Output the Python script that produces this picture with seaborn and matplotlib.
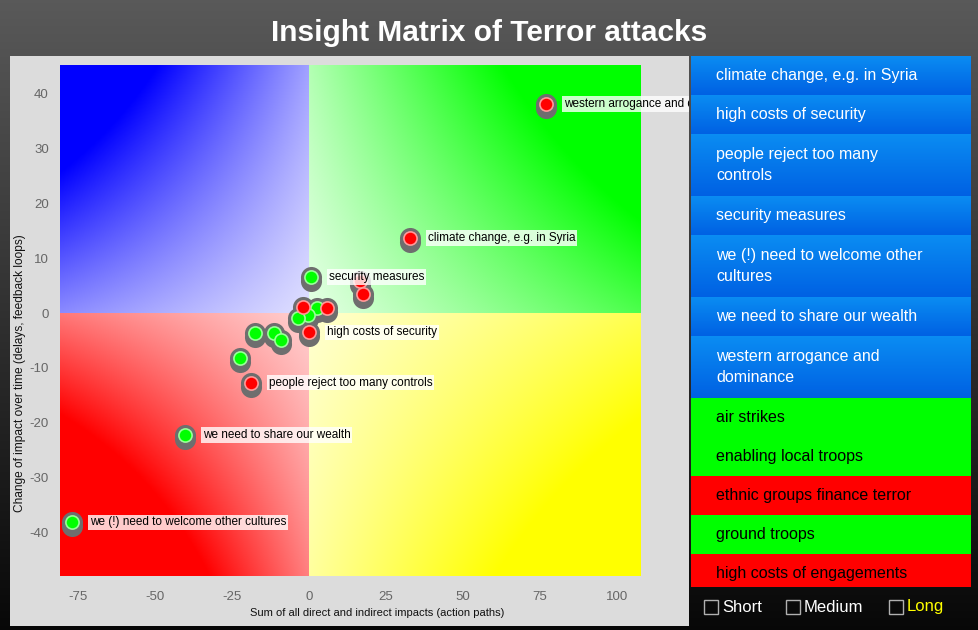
import numpy as np
import pandas as pd
import matplotlib
matplotlib.use("Agg")
import matplotlib.pyplot as plt
import seaborn as sns
from matplotlib import font_manager
from matplotlib.patches import Rectangle
from matplotlib.transforms import offset_copy

# ---- data ----
pt_x = [76.9, 32.8, 0.6, 16.6, 17.5, 5.8, 2.6, -1.9, -0.3, -3.6, 0.0,
        -17.5, -11.4, -9.1, -22.4, -18.8, -40.3, -77.0]
pt_y = [38.1, 13.7, 6.6, 5.8, 3.5, 0.9, 0.9, 1.1, -0.4, -0.9, -3.5,
        -3.6, -3.6, -4.9, -8.2, -12.7, -22.2, -38.1]
pt_kind = ["red", "red", "green", "red", "red", "red", "green", "red", "green", "green", "red",
           "green", "green", "green", "green", "red", "green", "green"]
pt_label = ["western arrogance and dominance", "climate change, e.g. in Syria", "security measures",
            "", "", "", "", "", "", "", "high costs of security",
            "", "", "", "", "people reject too many controls", "we need to share our wealth",
            "we (!) need to welcome other cultures"]

x_ticks = [-75, -50, -25, 0, 25, 50, 75, 100]
y_ticks = [-40, -30, -20, -10, 0, 10, 20, 30, 40]

panel_items = ["climate change, e.g. in Syria", "high costs of security",
               "people reject too many\ncontrols", "security measures",
               "we (!) need to welcome other\ncultures", "we need to share our wealth",
               "western arrogance and\ndominance", "air strikes", "enabling local troops",
               "ethnic groups finance terror", "ground troops", "high costs of engagements"]
panel_kind = ["blue"] * 7 + ["green", "green", "red", "green", "red"]

legend_labels = ["Short", "Medium", "Long"]
legend_colors = ["white", "white", "#ffff00"]

df = pd.DataFrame({"x": pt_x, "y": pt_y, "kind": pt_kind, "label": pt_label})

sns.set_style("white")
names = {f.name for f in font_manager.fontManager.ttflist}
narrow = "Liberation Sans Narrow" if "Liberation Sans Narrow" in names else "Liberation Sans"
plt.rcParams["font.family"] = ["Liberation Sans", "DejaVu Sans"]
plt.rcParams["axes.unicode_minus"] = False

W, H = 979, 630
fig = plt.figure(figsize=(W / 100, H / 100), dpi=100)


def fx(px):
    return px / W


def fy(py):
    return 1 - py / H


# dark background gradient
bg = fig.add_axes([0, 0, 1, 1], zorder=-10)
grad = np.linspace(0.35, 0.03, 256)[:, None] * np.ones((1, 2))
bg.imshow(np.dstack([grad] * 3), aspect="auto", extent=(0, 1, 0, 1))
bg.set_axis_off()

# gray chart panel
panel = Rectangle((fx(10), fy(626)), fx(679), 570 / H, transform=fig.transFigure,
                  facecolor="#dcdcdc", edgecolor="none", zorder=-5)
fig.patches.append(panel)

fig.text(0.5, fy(33), "Insight Matrix of Terror attacks", color="white", fontsize=21.5,
         fontweight="bold", family=[narrow, "DejaVu Sans"], ha="center", va="center")

ax = fig.add_axes([fx(60), fy(576), fx(580), 511 / H])
xmin, xmax, ymin, ymax = -80.8, 107.5, -47.9, 45.2


def quad(x0, x1, y0, y1, rgb, w):
    xs = np.linspace(x0, x1, 200)
    ys = np.linspace(y1, y0, 200)
    X, Y = np.meshgrid(xs, ys)
    u = np.abs(X) / (xmax if x1 > 0 else -xmin)
    v = np.abs(Y) / (ymax if y1 > 0 else -ymin)
    t = np.clip(w[0] + w[1] * u + w[2] * v + w[3] * u * v, 0, 1)
    img = np.ones((200, 200, 3)) * (1 - t[..., None]) + np.array(rgb) * t[..., None]
    ax.imshow(img, extent=(x0, x1, y0, y1), aspect="auto", zorder=0)


quad(xmin, 0, 0, ymax, (0, 0, 1), (0.12, 0.34, 0.25, 0.7))
quad(0, xmax, 0, ymax, (0, 1, 0), (0.1, 0.6, 0.2, 0.6))
quad(xmin, 0, ymin, 0, (1, 0, 0), (0.18, 0.35, 0.32, 0.9))
quad(0, xmax, ymin, 0, (1, 1, 0), (0.18, 0.5, 0.2, 0.6))

pal = {"red": "#ff0000", "green": "#00ff00"}
edge = {"red": "#ff9a9a", "green": "#9aff9a"}

# cylinder-like gray base, then colored dot
sns.scatterplot(data=df, x="x", y="y", color="#6e6e6e", s=230, linewidth=0, ax=ax,
                legend=False, zorder=3)
ax.collections[-1].set_offset_transform(offset_copy(ax.transData, fig, y=-4, units="dots"))
sns.scatterplot(data=df, x="x", y="y", color="#6e6e6e", s=230, linewidth=0, ax=ax,
                legend=False, zorder=3)
for kind in ["green", "red"]:
    sub = df[df.kind == kind]
    sns.scatterplot(data=sub, x="x", y="y", color=pal[kind], s=90, edgecolor=edge[kind],
                    linewidth=1.2, ax=ax, legend=False, zorder=4)

for _, r in df[df.label != ""].iterrows():
    t = ax.annotate(r.label, (r.x, r.y), xytext=(13, 0), textcoords="offset points",
                    va="center", ha="left", fontsize=8.5, color="black", zorder=6,
                    annotation_clip=False,
                    bbox=dict(facecolor="white", alpha=0.8, edgecolor="none", pad=1.2))
    t.set_clip_on(True)
    t.set_clip_path(panel)

ax.set_xlim(xmin, xmax)
ax.set_ylim(ymin, ymax)
ax.set_xticks(x_ticks)
ax.set_yticks(y_ticks)
ax.tick_params(length=0, labelsize=9.5, labelcolor="#666666")
ax.tick_params(axis="x", pad=11)
ax.tick_params(axis="y", pad=8)
for lab in ax.get_xticklabels() + ax.get_yticklabels():
    lab.set_family([narrow, "DejaVu Sans"])
for s in ax.spines.values():
    s.set_visible(False)
ax.set_xlabel("Sum of all direct and indirect impacts (action paths)", fontsize=8,
              color="#111111", labelpad=2)
ax.set_ylabel("Change of impact over time (delays, feedback loops)", fontsize=8.6,
              color="#111111", labelpad=4)
ax.xaxis.set_label_coords(0.547, -0.062)
ax.yaxis.set_label_coords(-0.058, 0.397)

# right list panel
ax2 = fig.add_axes([fx(691), fy(587), fx(280), 531 / H])
lines = [s.count("\n") + 1 for s in panel_items]
heights = [23 * n + 16 for n in lines]
tops = np.concatenate([[0], np.cumsum(heights)[:-1]])
centers = tops + np.array(heights) / 2
row_col = {"blue": "#0a78ea", "green": "#00ff00", "red": "#ff0000"}
ax2.barh(centers, 1, height=heights, left=0, color=[row_col[k] for k in panel_kind],
         linewidth=0, zorder=1)
for top, h, c, txt, k in zip(tops, heights, centers, panel_items, panel_kind):
    if k == "blue":
        g = np.linspace(0, 1, 64)[:, None]
        c0, c1 = np.array([0.04, 0.55, 0.95]), np.array([0.0, 0.38, 0.89])
        img = (c0 * (1 - g) + c1 * g)[:, None, :] * np.ones((1, 2, 1))
        ax2.imshow(img, extent=(0, 1, top + h, top), aspect="auto", zorder=2)
    ax2.text(0.09, c, txt, va="center", ha="left", fontsize=11.5, linespacing=1.45,
             color="white" if k == "blue" else "black", zorder=3)
ax2.set_xlim(0, 1)
ax2.set_ylim(531, 0)
ax2.set_axis_off()

# bottom legend with check boxes
box_x = [704, 786, 889]
for bx, lab, col in zip(box_x, legend_labels, legend_colors):
    fig.patches.append(Rectangle((fx(bx), fy(614)), fx(14), 14 / H, transform=fig.transFigure,
                                 facecolor="none", edgecolor="#b0b0b0", linewidth=1))
    fig.text(fx(bx + 18), fy(607), lab, color=col, fontsize=12, ha="left", va="center")

fig.savefig("out.png", dpi=100)
